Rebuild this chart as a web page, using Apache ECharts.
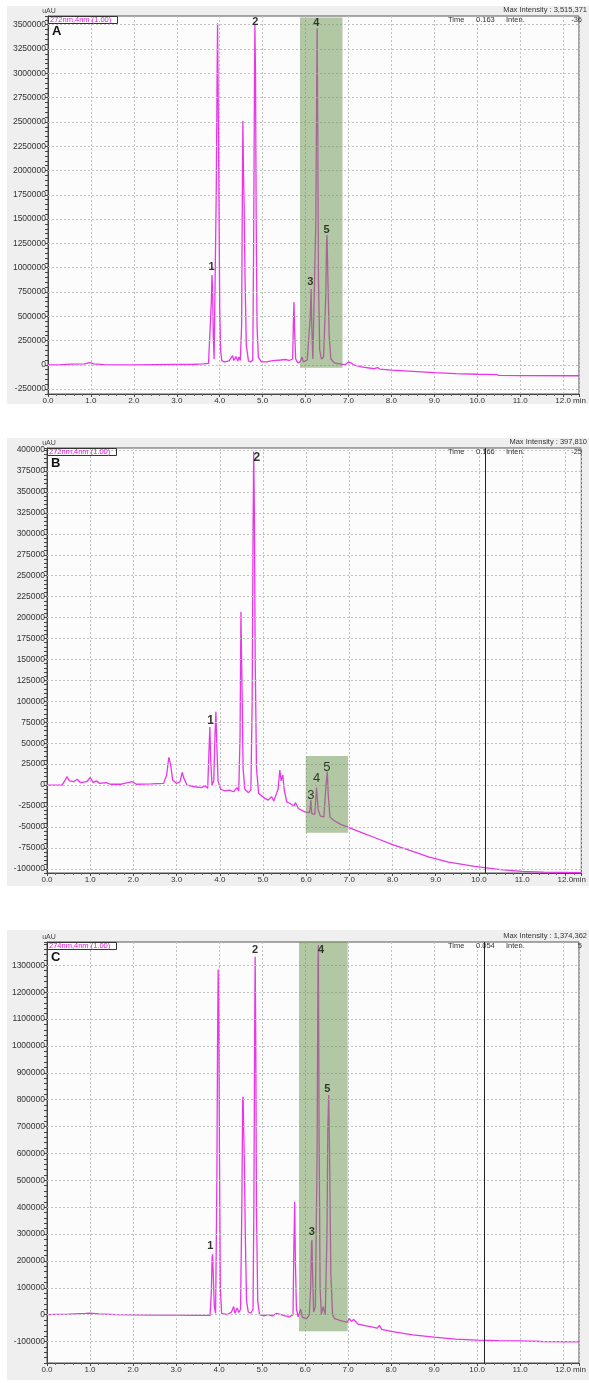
<!DOCTYPE html>
<html>
<head>
<meta charset="utf-8">
<script src="https://cdn.jsdelivr.net/npm/echarts@6.0.0/dist/echarts.min.js"></script>
<style>
html, body { margin: 0; padding: 0; background: #fff; }
#chart { width: 589px; height: 1383px; }
</style>
</head>
<body>
<div id="chart"></div>
<script>
// chromatogram traces: [time (min), intensity (uAU)]
var traceA = [
  [0, 0], [0.3, 3000], [0.55, 8000], [0.85, 10000], [0.97, 22000], [1.07, 10000], [1.3, 3000], [1.6, 0], [2.0, 0], [2.5, 2000],
  [3.0, 4000], [3.4, 6000], [3.62, 10000], [3.74, 15000], [3.78, 30000],
  [3.805, 650000], [3.82, 925000], [3.835, 770000], [3.85, 300000], [3.87, 60000], [3.895, 40000],
  [3.92, 1800000], [3.94, 3000000], [3.95, 3515000], [3.965, 2700000], [3.98, 1900000], [4.0, 600000], [4.02, 150000], [4.05, 40000],
  [4.12, 30000], [4.22, 40000], [4.3, 95000], [4.33, 45000], [4.38, 85000], [4.42, 40000], [4.45, 80000], [4.48, 45000],
  [4.51, 400000], [4.53, 1930000], [4.54, 2509000], [4.555, 1950000], [4.57, 1624000], [4.59, 900000], [4.62, 200000], [4.67, 40000],
  [4.72, 30000], [4.77, 50000],
  [4.79, 1200000], [4.81, 2900000], [4.82, 3497000], [4.835, 2950000], [4.85, 1500000], [4.87, 400000], [4.9, 80000], [4.97, 30000],
  [5.1, 30000], [5.2, 40000], [5.3, 45000], [5.42, 50000], [5.52, 55000], [5.62, 45000], [5.7, 60000],
  [5.715, 400000], [5.73, 647000], [5.745, 350000], [5.77, 60000], [5.82, 20000], [5.87, 30000], [5.92, 80000], [5.95, 30000],
  [5.99, 20000], [6.04, 50000], [6.08, 30000],
  [6.11, 500000], [6.13, 780000], [6.145, 400000], [6.17, 60000], [6.21, 80000],
  [6.24, 1500000], [6.26, 2900000], [6.27, 3463000], [6.285, 2400000], [6.3, 900000], [6.33, 150000], [6.37, 60000], [6.42, 80000],
  [6.47, 700000], [6.49, 1250000], [6.5, 1336000], [6.52, 900000], [6.55, 300000], [6.59, 60000], [6.67, 20000], [6.8, 10000],
  [6.92, 0], [7.0, 30000], [7.06, 20000], [7.12, 0], [7.3, -20000], [7.6, -40000], [7.68, -28000], [7.73, -45000], [8.0, -55000],
  [8.5, -68000], [9.0, -80000], [9.5, -90000], [10.0, -97000], [10.45, -100000], [10.5, -108000], [11.0, -110000], [12.37, -112000]
];
var traceB = [
  [0, 0], [0.35, 0], [0.42, 6000], [0.46, 10000], [0.52, 5000], [0.62, 4000], [0.7, 7000], [0.77, 3000], [0.92, 4000], [1.0, 9000],
  [1.07, 3000], [1.14, 5000], [1.22, 2000], [1.37, 3000], [1.47, 1000], [1.72, 1000], [1.97, 4000], [2.07, 1000], [2.42, 1500],
  [2.7, 2000], [2.77, 12000], [2.82, 33000], [2.86, 25000], [2.91, 6000], [3.0, 2000], [3.08, 4000], [3.13, 15000], [3.17, 8000],
  [3.24, 0], [3.42, -2000], [3.57, -3000], [3.67, -1000], [3.72, -4000],
  [3.75, 40000], [3.77, 69400], [3.79, 30000], [3.82, 0], [3.86, 5000], [3.89, 60000], [3.91, 87600], [3.93, 50000], [3.96, 5000],
  [4.02, -5000], [4.12, -7000], [4.22, -6000], [4.32, -8000], [4.4, -3000], [4.44, -7000],
  [4.47, 60000], [4.49, 207000], [4.505, 150000], [4.52, 100000], [4.54, 20000], [4.58, -5000], [4.66, -9000], [4.72, -6000],
  [4.75, 100000], [4.77, 300000], [4.785, 398000], [4.8, 330000], [4.82, 150000], [4.85, 20000], [4.9, -10000], [5.02, -15000],
  [5.12, -18000], [5.2, -14000], [5.25, -19000], [5.3, -12000], [5.35, -5000], [5.39, 18000], [5.42, 5000], [5.46, 12000],
  [5.49, -5000], [5.55, -20000], [5.63, -22000], [5.72, -25000], [5.75, -21000], [5.82, -28000], [5.97, -32000],
  [6.08, -33000], [6.11, -18000], [6.13, -34000],
  [6.2, -35000], [6.24, -3000], [6.26, -2000], [6.28, -30000], [6.33, -37000], [6.41, -38000],
  [6.46, 0], [6.49, 16000], [6.51, -10000], [6.55, -38000], [6.63, -42000], [6.8, -47000], [6.95, -50000], [7.3, -57000],
  [7.55, -62000], [8.0, -71000], [8.4, -78000], [8.85, -86000], [9.3, -92000], [9.9, -97000], [10.5, -101000], [11.0, -103000],
  [11.5, -104000], [12.37, -104500]
];
var traceC = [
  [0, 0], [0.5, 2000], [0.9, 5000], [1.0, 6000], [1.2, 3000], [1.6, 0], [2.5, -2000], [3.0, -2000], [3.5, -3000], [3.79, -3000],
  [3.82, 80000], [3.84, 215000], [3.85, 224600], [3.865, 150000], [3.89, 30000], [3.92, 5000],
  [3.95, 500000], [3.965, 1000000], [3.98, 1285000], [3.995, 1100000], [4.01, 600000], [4.03, 100000], [4.06, 5000], [4.19, 0],
  [4.29, 10000], [4.34, 30000], [4.37, 5000], [4.42, 25000], [4.46, 8000], [4.5, 20000],
  [4.53, 400000], [4.55, 800000], [4.56, 811000], [4.575, 680000], [4.59, 560000], [4.61, 300000], [4.64, 50000], [4.68, 10000],
  [4.74, 5000], [4.79, 20000],
  [4.81, 400000], [4.83, 1100000], [4.84, 1332000], [4.855, 1000000], [4.87, 400000], [4.9, 50000], [4.94, 0], [5.04, -5000],
  [5.14, 0], [5.24, -5000], [5.34, 5000], [5.44, 0], [5.54, -5000], [5.64, -8000], [5.72, 0],
  [5.74, 250000], [5.76, 420000], [5.775, 200000], [5.8, 20000], [5.84, -8000], [5.9, 20000], [5.94, -10000], [6.04, -15000], [6.1, 0],
  [6.13, 100000], [6.15, 265000], [6.16, 278000], [6.175, 150000], [6.2, 10000], [6.24, 30000],
  [6.28, 600000], [6.3, 1300000], [6.31, 1376000], [6.325, 700000], [6.35, 100000], [6.38, 0], [6.42, 30000], [6.47, 0],
  [6.51, 300000], [6.53, 700000], [6.55, 817500], [6.57, 600000], [6.6, 150000], [6.64, 0], [6.69, -15000], [6.79, -20000],
  [6.89, -25000], [6.98, -28000], [7.03, -15000], [7.08, -25000], [7.13, -18000], [7.23, -35000], [7.43, -42000], [7.68, -50000],
  [7.73, -40000], [7.78, -55000], [8.0, -62000], [8.5, -75000], [9.0, -84000], [9.5, -91000], [10.0, -95000], [10.5, -97000],
  [11.0, -98000], [11.5, -100000], [12.37, -101000]
];

// peak number labels: text, time, intensity where the label sits
var peakNames = ['1', '2', '3', '4', '5'];
var peakTimesA = [3.81, 4.83, 6.11, 6.25, 6.49];
var peakLevelsA = [1004000, 3531000, 856000, 3515000, 1388000];
var peakTimesB = [3.79, 4.86, 6.11, 6.24, 6.48];
var peakLevelsB = [76500, 390900, -11800, 8100, 21200];
var peakTimesC = [3.80, 4.84, 6.16, 6.37, 6.52];
var peakLevelsC = [255500, 1357000, 306500, 1357000, 840000];

// shaded windows [t0, t1, low, high] and cursor times
var windowA = [5.87, 6.86, -30000, 3575000];
var windowB = [5.99, 6.97, -57000, 34700];
var windowC = [5.86, 6.99, -62000, 1387000];
var cursorB = 10.15;
var cursorC = 10.17;

// header texts
var panelLetters = ['A', 'B', 'C'];
var channels = ['272nm,4nm (1.00)', '272nm,4nm (1.00)', '274nm,4nm (1.00)'];
var maxIntensities = ['3,515,371', '397,810', '1,374,362'];
var cursorTimes = ['0.163', '0.166', '0.054'];
var cursorIntens = ['-36', '-25', '5'];
var xUnitLabels = [' min', 'min', ' min'];

var FONT = 'Arial, "Liberation Sans", sans-serif';

var panels = [
  { trace: traceA, times: peakTimesA, levels: peakLevelsA, win: windowA, cursor: null,
    bg: [7, 6, 582, 398], grid: { left: 48, top: 16, width: 537, height: 378 },
    yMin: -300000, yMax: 3590000, yStep: 50000, yLabelStep: 250000, xMax: 12.37, bigLabels: false },
  { trace: traceB, times: peakTimesB, levels: peakLevelsB, win: windowB, cursor: cursorB,
    bg: [7, 438, 582, 448], grid: { left: 47, top: 448, width: 538, height: 425 },
    yMin: -105000, yMax: 402500, yStep: 5000, yLabelStep: 25000, xMax: 12.37, bigLabels: true },
  { trace: traceC, times: peakTimesC, levels: peakLevelsC, win: windowC, cursor: cursorC,
    bg: [7, 930, 582, 450], grid: { left: 47, top: 942, width: 538, height: 421 },
    yMin: -180000, yMax: 1387000, yStep: 20000, yLabelStep: 100000, xMax: 12.37, bigLabels: false }
];

var myChart = echarts.init(document.getElementById('chart'), null, { renderer: 'canvas' });

var grids = [], xAxes = [], yAxes = [], series = [], graphics = [];

panels.forEach(function (p, i) {
  grids.push({
    left: p.grid.left, top: p.grid.top, width: p.grid.width, height: p.grid.height,
    show: true, backgroundColor: '#fcfcfc', borderColor: '#555', borderWidth: 1
  });

  var unit = xUnitLabels[i];
  xAxes.push({
    gridIndex: i, type: 'value', min: 0, max: p.xMax, interval: 1,
    axisLine: { onZero: false, lineStyle: { color: '#444' } },
    axisTick: { length: 3, lineStyle: { color: '#444' } },
    minorTick: { show: true, splitNumber: 5, length: 2, lineStyle: { color: '#666' } },
    splitLine: { show: true, lineStyle: { type: [2, 2], color: '#c2c2c2' } },
    axisLabel: {
      fontSize: 8, color: '#333', fontFamily: FONT, margin: 3,
      formatter: function (v) {
        if (Math.abs(v - Math.round(v)) > 1e-6) return '';
        if (Math.round(v) === 12) return '{h|' + unit + '}{n|12.0}{n|' + unit + '}';
        return v.toFixed(1);
      },
      rich: {
        h: { fontSize: 8, color: 'rgba(0,0,0,0)', fontFamily: FONT },
        n: { fontSize: 8, color: '#333', fontFamily: FONT }
      }
    }
  });

  var labelStep = p.yLabelStep;
  yAxes.push({
    gridIndex: i, type: 'value', min: p.yMin, max: p.yMax, interval: p.yStep,
    axisLine: { show: true, onZero: false, lineStyle: { color: '#444' } },
    axisTick: { show: true, length: 3, lineStyle: { color: '#444' } },
    splitLine: { show: false },
    axisLabel: {
      fontSize: 8.5, color: '#333', fontFamily: FONT, margin: 2,
      formatter: function (v) {
        var r = Math.round(v);
        return r % labelStep === 0 ? String(r) : '';
      }
    }
  });

  // horizontal dashed grid at labelled values
  var gridVals = [];
  for (var v = Math.ceil(p.yMin / labelStep) * labelStep; v <= p.yMax; v += labelStep) {
    gridVals.push({ yAxis: v });
  }
  series.push({
    type: 'line', xAxisIndex: i, yAxisIndex: i, data: [], z: 1, silent: true,
    markLine: {
      silent: true, symbol: ['none', 'none'], label: { show: false },
      lineStyle: { type: [2, 2], color: '#c2c2c2', width: 1 },
      data: gridVals
    }
  });

  var trace = {
    type: 'line', xAxisIndex: i, yAxisIndex: i, data: p.trace, z: 3,
    showSymbol: false, symbol: 'none', silent: true,
    lineStyle: { color: '#e836e8', width: 1.3 }
  };
  if (p.cursor !== null) {
    trace.markLine = {
      silent: true, symbol: ['none', 'none'], label: { show: false },
      lineStyle: { type: 'solid', color: '#222', width: 1 },
      data: [{ xAxis: p.cursor }]
    };
  }
  series.push(trace);

  // shaded window
  series.push({
    type: 'custom', xAxisIndex: i, yAxisIndex: i, z: 5, silent: true,
    data: [p.win],
    encode: { x: [0, 1], y: [2, 3] },
    renderItem: function (params, api) {
      var a = api.coord([api.value(0), api.value(3)]);
      var b = api.coord([api.value(1), api.value(2)]);
      return {
        type: 'rect',
        shape: { x: a[0], y: a[1], width: b[0] - a[0], height: b[1] - a[1] },
        style: { fill: 'rgba(104,146,74,0.5)' }
      };
    }
  });

  // peak numbers
  var labelData = peakNames.map(function (name, k) {
    var inWindow = k >= 2;
    return {
      value: [p.times[k], p.levels[k]],
      name: name,
      label: {
        fontWeight: inWindow && p.bigLabels ? 'normal' : 'bold',
        fontSize: p.bigLabels ? (inWindow ? 13 : 12) : 11,
        color: inWindow ? '#0c1408' : '#000'
      }
    };
  });
  series.push({
    type: 'scatter', xAxisIndex: i, yAxisIndex: i, z: 6, silent: true,
    symbol: 'circle', symbolSize: 1, data: labelData,
    itemStyle: { color: 'rgba(0,0,0,0)' },
    label: {
      show: true, position: 'inside', fontFamily: FONT,
      textBorderWidth: 0, textBorderColor: 'rgba(0,0,0,0)',
      formatter: function (prm) { return prm.name; }
    }
  });

  // panel background and header texts
  var g = p.grid;
  graphics.push({
    type: 'rect', z: -10, silent: true,
    shape: { x: p.bg[0], y: p.bg[1], width: p.bg[2], height: p.bg[3] },
    style: { fill: '#efefef' }
  });
  graphics.push({
    type: 'text', z: 20, x: 49, y: g.top - 5,
    style: { text: 'uAU', font: '7px ' + FONT, fill: '#444', textAlign: 'center', textVerticalAlign: 'middle' }
  });
  graphics.push({
    type: 'text', z: 20, x: 587, y: g.top - 6,
    style: { text: 'Max Intensity : ' + maxIntensities[i], font: '7.5px ' + FONT, fill: '#333', textAlign: 'right', textVerticalAlign: 'middle' }
  });
  graphics.push({
    type: 'rect', z: 20, silent: true,
    shape: { x: g.left + 0.5, y: g.top + 0.5, width: 69, height: 7 },
    style: { fill: 'none', stroke: '#333', lineWidth: 1 }
  });
  graphics.push({
    type: 'text', z: 21, x: g.left + 2, y: g.top + 4,
    style: { text: channels[i], font: '7.5px ' + FONT, fill: '#e020e0', textVerticalAlign: 'middle' }
  });
  graphics.push({
    type: 'text', z: 21, x: g.left + 4, y: g.top + 15,
    style: { text: panelLetters[i], font: 'bold 13px ' + FONT, fill: '#111', textVerticalAlign: 'middle' }
  });
  var hy = g.top + 4;
  graphics.push({ type: 'text', z: 21, x: 448, y: hy, style: { text: 'Time', font: '7.5px ' + FONT, fill: '#333', textVerticalAlign: 'middle' } });
  graphics.push({ type: 'text', z: 21, x: 476, y: hy, style: { text: cursorTimes[i], font: '7.5px ' + FONT, fill: '#333', textVerticalAlign: 'middle' } });
  graphics.push({ type: 'text', z: 21, x: 506, y: hy, style: { text: 'Inten.', font: '7.5px ' + FONT, fill: '#333', textVerticalAlign: 'middle' } });
  graphics.push({ type: 'text', z: 21, x: 582, y: hy, style: { text: cursorIntens[i], font: '7.5px ' + FONT, fill: '#333', textAlign: 'right', textVerticalAlign: 'middle' } });
});

var option = {
  animation: false,
  backgroundColor: '#ffffff',
  grid: grids,
  xAxis: xAxes,
  yAxis: yAxes,
  series: series,
  graphic: { elements: graphics }
};

myChart.setOption(option);
</script>
</body>
</html>
